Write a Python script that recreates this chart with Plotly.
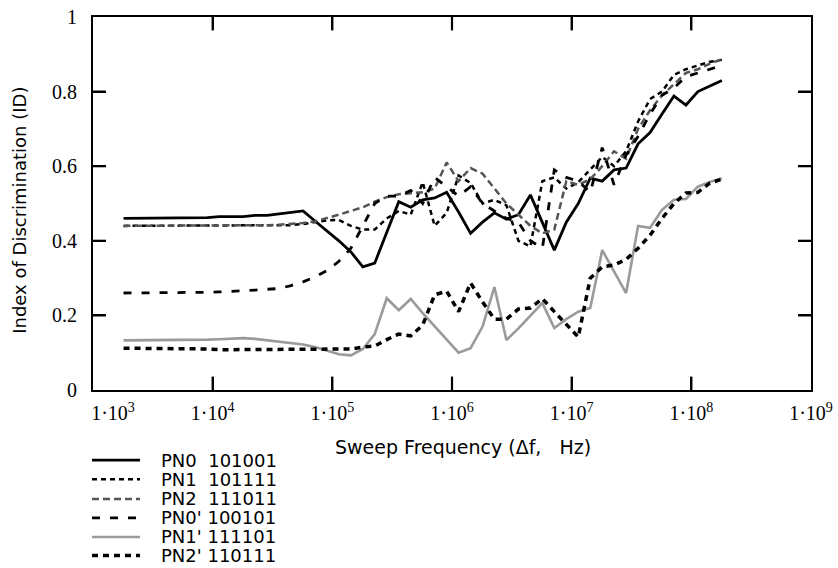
import math
import plotly.graph_objects as go

# Sweep frequency grid (Hz): mantissas per decade, 1.8e3 ... 1.8e8
MANTISSA = [1.80, 2.26, 2.85, 3.59, 4.52, 5.69, 7.16, 9.02, 11.35, 14.3]
FREQ_HZ = [m * 10 ** d for d in range(3, 8) for m in MANTISSA] + [1.80e8]

PN0 = [0.46, 0.46, 0.46, 0.46, 0.46, 0.46, 0.46, 0.462, 0.465, 0.465,
       0.465, 0.468, 0.468, 0.472, 0.476, 0.48, 0.453, 0.427, 0.40, 0.37,
       0.33, 0.34, 0.42, 0.505, 0.49, 0.51, 0.515, 0.53, 0.477, 0.42,
       0.45, 0.475, 0.458, 0.47, 0.523, 0.45, 0.375, 0.45, 0.50, 0.568,
       0.56, 0.59, 0.595, 0.66, 0.69, 0.74, 0.788, 0.764, 0.80, 0.815,
       0.83]
PN1 = [0.44, 0.44, 0.44, 0.44, 0.44, 0.44, 0.44, 0.44, 0.44, 0.44,
       0.44, 0.44, 0.44, 0.441, 0.442, 0.445, 0.45, 0.455, 0.456, 0.44,
       0.43, 0.43, 0.46, 0.48, 0.47, 0.557, 0.44, 0.475, 0.575, 0.555,
       0.50, 0.51, 0.495, 0.40, 0.385, 0.56, 0.57, 0.54, 0.557, 0.59,
       0.625, 0.60, 0.64, 0.72, 0.78, 0.80, 0.845, 0.86, 0.87, 0.88,
       0.885]
PN2 = [0.44, 0.44, 0.44, 0.44, 0.44, 0.44, 0.44, 0.44, 0.44, 0.44,
       0.44, 0.44, 0.442, 0.443, 0.445, 0.448, 0.452, 0.46, 0.47, 0.48,
       0.49, 0.505, 0.517, 0.525, 0.528, 0.53, 0.54, 0.61, 0.56, 0.595,
       0.58, 0.54, 0.50, 0.47, 0.44, 0.42, 0.43, 0.56, 0.55, 0.565,
       0.60, 0.64, 0.62, 0.70, 0.75, 0.79, 0.82, 0.85, 0.86, 0.875,
       0.887]
PN0P = [0.26, 0.26, 0.26, 0.26, 0.26, 0.26, 0.26, 0.262, 0.263, 0.264,
        0.266, 0.268, 0.27, 0.272, 0.28, 0.29, 0.303, 0.32, 0.345, 0.38,
        0.44, 0.50, 0.52, 0.52, 0.535, 0.50, 0.57, 0.545, 0.52, 0.545,
        0.50, 0.48, 0.46, 0.45, 0.40, 0.38, 0.59, 0.57, 0.56, 0.53,
        0.65, 0.55, 0.63, 0.68, 0.74, 0.79, 0.81, 0.84, 0.85, 0.86,
        0.87]
PN1P = [0.133, 0.133, 0.133, 0.133, 0.133, 0.133, 0.134, 0.135, 0.136, 0.138,
        0.139, 0.137, 0.133, 0.13, 0.127, 0.122, 0.115, 0.106, 0.096, 0.093,
        0.11, 0.15, 0.246, 0.214, 0.244, 0.206, 0.17, 0.135, 0.10, 0.112,
        0.17, 0.276, 0.134, 0.165, 0.20, 0.233, 0.166, 0.19, 0.21, 0.22,
        0.375, 0.32, 0.26, 0.44, 0.435, 0.483, 0.51, 0.512, 0.545, 0.558,
        0.568]
PN2P = [0.112, 0.112, 0.112, 0.112, 0.112, 0.11, 0.11, 0.11, 0.108, 0.108,
        0.108, 0.108, 0.108, 0.108, 0.108, 0.108, 0.108, 0.108, 0.11, 0.11,
        0.115, 0.118, 0.135, 0.15, 0.145, 0.174, 0.255, 0.265, 0.21, 0.287,
        0.236, 0.19, 0.19, 0.217, 0.22, 0.245, 0.21, 0.175, 0.142, 0.30,
        0.33, 0.335, 0.35, 0.38, 0.415, 0.46, 0.50, 0.528, 0.53, 0.555,
        0.565]

SERIES = [
    ("PN0\u00a0\u00a0101001", PN0, "#000000", "solid", 2.8),
    ("PN1\u00a0\u00a0101111", PN1, "#000000", "5px,4px", 2.5),
    ("PN2\u00a0\u00a0111011", PN2, "#555555", "7px,4px", 2.5),
    ("PN0'\u00a0100101", PN0P, "#000000", "8px,10px", 2.8),
    ("PN1'\u00a0111101", PN1P, "#9a9a9a", "solid", 2.6),
    ("PN2'\u00a0110111", PN2P, "#000000", "6px,5px", 3.5),
]

X_RANGE_LOG = [3, 9]
Y_RANGE = [0, 1]
X_TICKS = [1e3, 1e4, 1e5, 1e6, 1e7, 1e8, 1e9]
X_TICKTEXT = ["\u00a0" * 8 + "1\u00b710<sup>3</sup>"] + [
    "1\u00b710<sup>%d</sup>" % e for e in range(4, 10)]
Y_TICKS = [0, 0.2, 0.4, 0.6, 0.8, 1]
Y_TICKTEXT = ["0", "0.2", "0.4", "0.6", "0.8", "1"]

# tick mark length as a fraction of the plot area (about 13 px)
TICK_FRAC_X, TICK_FRAC_Y = 0.036, 0.018

# legend layout (paper coordinates, below the plot)
LEG_X0, LEG_X1, LEG_TX = -0.0014, 0.0655, 0.092
LEG_ROWS_Y = [-0.188, -0.239, -0.292, -0.343, -0.394, -0.444]

fig = go.Figure()
shapes = []
annotations = []
for (name, vals, color, dash, width), ly in zip(SERIES, LEG_ROWS_Y):
    fig.add_trace(go.Scatter(x=FREQ_HZ, y=vals, mode="lines", name=name,
                             showlegend=False,
                             line=dict(color=color, dash=dash, width=width)))
    shapes.append(dict(type="line", xref="paper", yref="paper",
                       x0=LEG_X0, x1=LEG_X1, y0=ly, y1=ly,
                       line=dict(color=color, dash=dash, width=width)))
    annotations.append(dict(text=name, xref="paper", yref="paper", x=LEG_TX, y=ly,
                            xanchor="left", yanchor="middle", showarrow=False,
                            font=dict(family="DejaVu Sans", size=18, color="black")))

# inward tick marks on all four sides (positions derived from the tick values and axis ranges)
tick_line = dict(color="black", width=2.2)
for xv in X_TICKS[1:-1]:
    fx = (math.log10(xv) - X_RANGE_LOG[0]) / (X_RANGE_LOG[1] - X_RANGE_LOG[0])
    shapes.append(dict(type="line", xref="paper", yref="paper", x0=fx, x1=fx,
                       y0=0, y1=TICK_FRAC_X, line=tick_line, layer="above"))
    shapes.append(dict(type="line", xref="paper", yref="paper", x0=fx, x1=fx,
                       y0=1, y1=1 - TICK_FRAC_X, line=tick_line, layer="above"))
for yv in Y_TICKS[1:-1]:
    fy = (yv - Y_RANGE[0]) / (Y_RANGE[1] - Y_RANGE[0])
    shapes.append(dict(type="line", xref="paper", yref="paper", x0=0, x1=TICK_FRAC_Y,
                       y0=fy, y1=fy, line=tick_line, layer="above"))
    shapes.append(dict(type="line", xref="paper", yref="paper", x0=1, x1=1 - TICK_FRAC_Y,
                       y0=fy, y1=fy, line=tick_line, layer="above"))

annotations += [
    dict(text="Sweep Frequency (\u0394f,\u00a0\u00a0\u00a0Hz)", xref="paper", yref="paper",
         x=0.515, y=-0.153, xanchor="center", yanchor="middle", showarrow=False,
         font=dict(family="DejaVu Sans", size=19, color="black")),
    dict(text="Index of Discrimination (ID)", xref="paper", yref="paper",
         x=-0.1017, y=0.483, xanchor="center", yanchor="middle", showarrow=False,
         textangle=-90, font=dict(family="DejaVu Sans", size=18, color="black")),
]


def axis_style():
    return dict(showline=True, linewidth=2, linecolor="black", mirror="allticks",
                ticks="inside", ticklen=13, tickwidth=2, tickcolor="black",
                showgrid=False, zeroline=False, layer="above traces",
                tickfont=dict(family="Liberation Serif", size=20, color="black"))


fig.update_layout(
    template="none",
    width=838, height=568,
    margin=dict(l=93, r=27, t=17, b=178),
    paper_bgcolor="white", plot_bgcolor="white",
    showlegend=False,
    shapes=shapes,
    annotations=annotations,
)
fig.update_xaxes(type="log", range=X_RANGE_LOG, tickmode="array", tickvals=X_TICKS,
                 ticktext=X_TICKTEXT, ticklabelstandoff=4, **axis_style())
fig.update_yaxes(range=Y_RANGE, tickmode="array", tickvals=Y_TICKS,
                 ticktext=Y_TICKTEXT, ticklabelstandoff=10, **axis_style())

fig.write_html("out.html")
